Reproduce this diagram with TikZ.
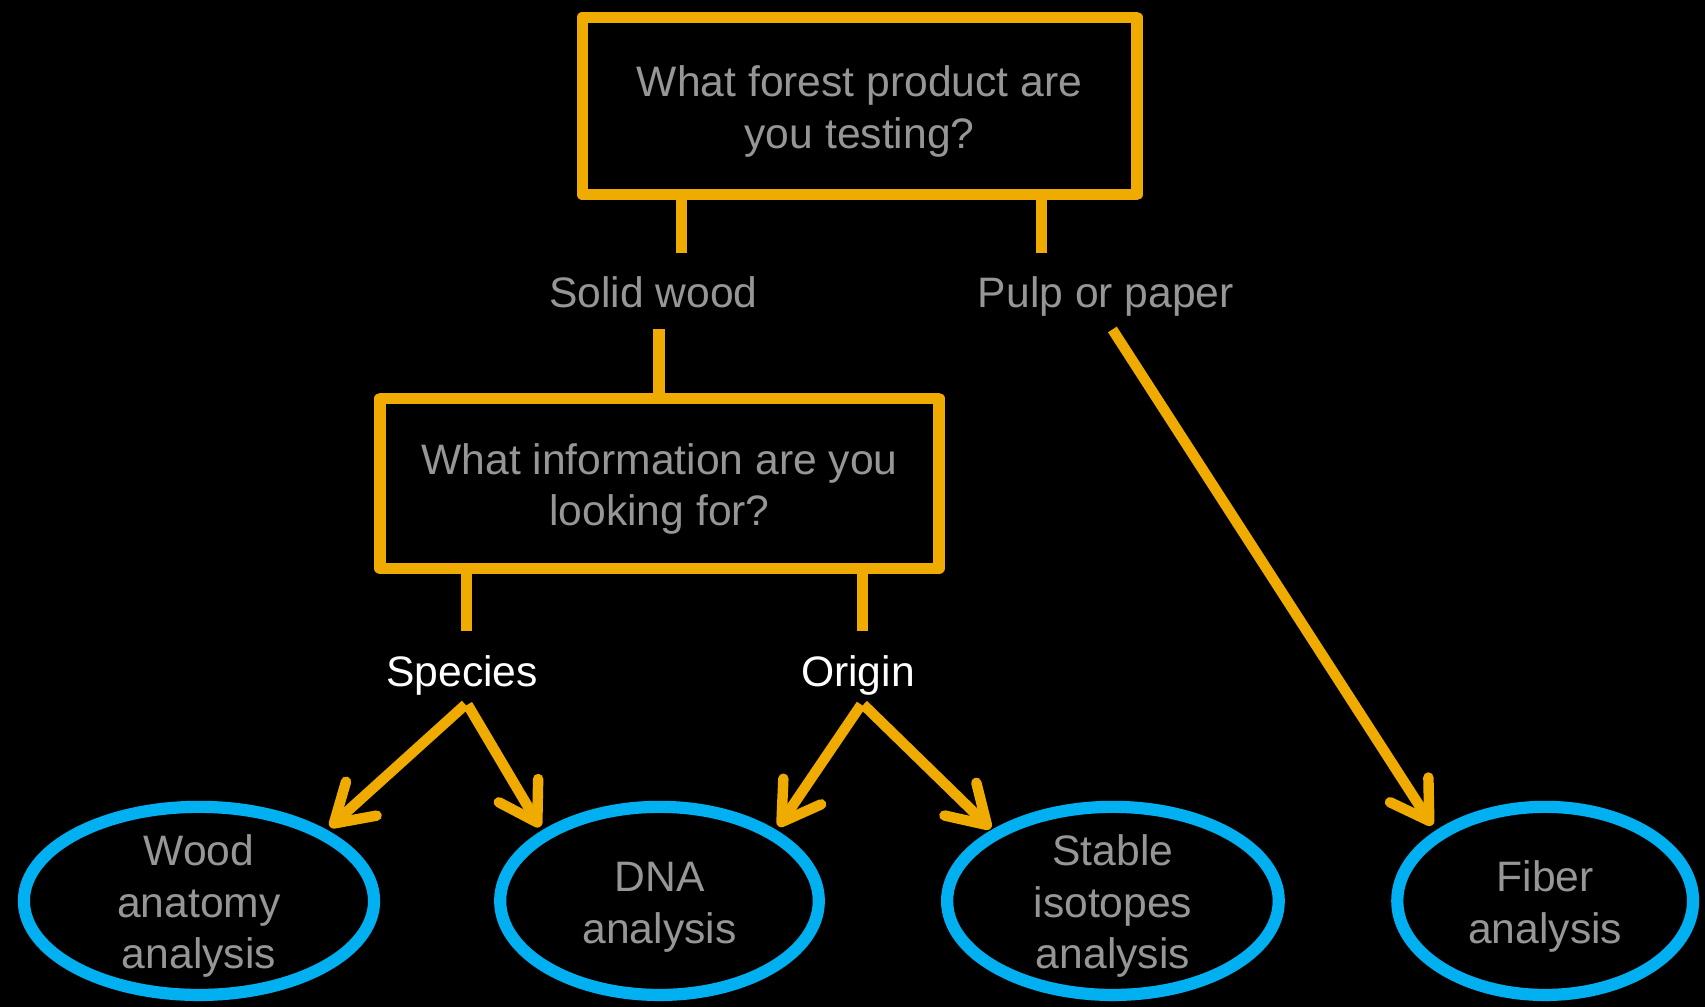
\documentclass[tikz,border=0pt]{standalone}
\usepackage{fontspec}
\setmainfont{Liberation Sans}
\usetikzlibrary{arrows.meta,shapes.geometric}
\definecolor{org}{HTML}{F0AB00}
\definecolor{sky}{HTML}{00B0F0}
\definecolor{txt}{HTML}{969696}
\newcommand{\tstrut}{\rule{0pt}{19.2pt}}
\begin{document}
\begin{tikzpicture}[x=0.5pt,y=-0.5pt,
 fnt/.style={font=\fontsize{19.6pt}{23.7pt}\selectfont},
 qbox/.style={fnt,draw=org,line width=5.2pt,line join=round,rectangle,inner sep=0pt,text=txt,align=center},
 lbl/.style={fnt,text=txt,inner sep=0pt,text height=14pt,text depth=0pt},
 wlbl/.style={lbl,text=white},
 oval/.style={draw=sky,line width=5.6pt,ellipse,inner sep=0pt},
 otext/.style={fnt,text=txt,align=center,inner sep=0pt},
 stem/.style={draw=org,line width=5.2pt},
 arr/.style={draw=org,line width=4.8pt,-{Straight Barb[length=17pt,width=21pt,round]}}
]
\fill[black] (0,0) rectangle (1568,926);
\useasboundingbox (0,0) rectangle (1568,926);

\node[qbox,minimum width=255pt,minimum height=81.5pt] (q1) at (790.5,97.5) {\tstrut What forest product are\\you testing?};
\node[qbox,minimum width=257pt,minimum height=78pt] (q2) at (606.5,444.5) {\tstrut What information are you\\looking for?};

\node[lbl] (sw) at (601,269) {Solid wood};
\node[lbl] (pp) at (1017,269) {Pulp or paper};
\node[wlbl] (sp) at (425,617) {Species};
\node[wlbl] (or) at (789,617) {Origin};

\node[oval,minimum width=161pt,minimum height=86.5pt] (e1) at (183,828.5) {};
\node[oval,minimum width=146.5pt,minimum height=86.5pt] (e2) at (606.5,828.5) {};
\node[oval,minimum width=152.5pt,minimum height=86.5pt] (e3) at (1023.5,828.5) {};
\node[oval,minimum width=136pt,minimum height=86.5pt] (e4) at (1421,828.5) {};
\node[otext] (e1t) at (e1) {\tstrut Wood\\anatomy\\analysis};
\node[otext] (e2t) at (e2) {\tstrut DNA\\analysis};
\node[otext] (e3t) at (e3) {\tstrut Stable\\isotopes\\analysis};
\node[otext] (e4t) at (e4) {\tstrut Fiber\\analysis};

% stems
\coordinate (s1) at (627,233);
\coordinate (s2) at (958,233);
\coordinate (s3) at (606,303);
\coordinate (s4) at (429,580);
\coordinate (s5) at (793,580);
\draw[stem] (q1.south -| s1) -- (s1);
\draw[stem] (q1.south -| s2) -- (s2);
\draw[stem] (s3) -- (s3 |- q2.north);
\draw[stem] (q2.south -| s4) -- (s4);
\draw[stem] (q2.south -| s5) -- (s5);

% arrows
\coordinate (a1s) at (428,648);
\coordinate (a2s) at (430,648);
\coordinate (a3s) at (792,648);
\coordinate (a4s) at (794,648);
\coordinate (a5s) at (1023,303);
\coordinate (t1) at (303.5,760.5);
\coordinate (t2) at (496.6,760.5);
\coordinate (t3) at (716,760);
\coordinate (t4) at (911,762);
\coordinate (t5) at (1317,759);
\draw[arr] (a1s) -- (t1);
\draw[arr] (a2s) -- (t2);
\draw[arr] (a3s) -- (t3);
\draw[arr] (a4s) -- (t4);
\draw[arr] (a5s) -- (t5);
\end{tikzpicture}
\end{document}
